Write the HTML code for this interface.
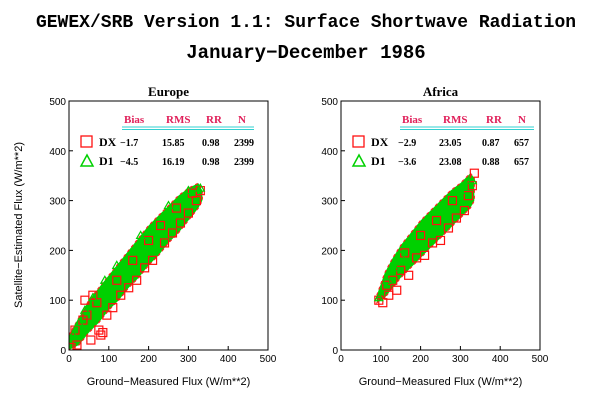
<!DOCTYPE html>
<html><head><meta charset="utf-8"><style>
body{margin:0;background:#fff;width:612px;height:403px;overflow:hidden}
svg{display:block}
text{font-family:"Liberation Sans",sans-serif}
.ser{font-family:"Liberation Serif",serif;font-weight:bold}
.mono{font-family:"Liberation Mono",monospace;font-weight:bold}
</style></head><body>
<svg id="chart" width="612" height="403" xmlns="http://www.w3.org/2000/svg">
<text class="mono" x="306" y="27" text-anchor="middle" font-size="18">GEWEX/SRB Version 1.1: Surface Shortwave Radiation</text>
<text class="mono" x="306" y="58" text-anchor="middle" font-size="19">January−December 1986</text>
<text x="22" y="225" font-size="11" text-anchor="middle" transform="rotate(-90 22 225)">Satellite−Estimated Flux (W/m**2)</text>
</svg>
<script>
const ticks=[0,100,200,300,400,500];
const statHeaders=["Bias","RMS","RR","N"];
const euroTitle="Europe", afrTitle="Africa";
const euroStatsDX=["-1.7","15.85","0.98","2399"];
const euroStatsD1=["-4.5","16.19","0.98","2399"];
const afrStatsDX=["-2.9","23.05","0.87","657"];
const afrStatsD1=["-3.6","23.08","0.88","657"];
// band of the dense green cloud: x, lower y, upper y
const euroBandX=[0,25,50,75,100,125,150,175,200,225,250,275,300,325,335];
const euroBandLo=[0,10,35,55,80,100,125,145,170,190,215,235,260,285,300];
const euroBandHi=[30,65,100,125,150,175,200,225,250,270,290,310,325,335,320];
const afrBandX=[90,110,130,150,175,200,225,250,275,300,325,335];
const afrBandLo=[95,105,125,145,165,185,205,225,245,265,285,300];
const afrBandHi=[110,155,185,210,235,260,280,300,320,335,355,345];
// DX red outliers
const euroDXx=[5,15,20,35,40,55,60,75,80,85,95,110,130,150,170,190,210,240,260,280,300,320,330,45,70,120,160,200,230,270,310];
const euroDXy=[5,40,10,60,100,20,110,40,30,35,70,85,110,125,140,165,180,215,235,255,275,300,320,70,95,140,180,220,250,285,315];
const afrDXx=[95,105,120,130,140,150,170,190,210,230,250,270,290,310,330,335,115,160,200,240,280,320];
const afrDXy=[100,95,110,140,120,160,150,185,190,215,220,245,265,280,330,355,130,195,230,260,300,310];
const euroD1x=[10,25,40,60,90,120,180,250,300,330];
const euroD1y=[30,55,80,105,140,170,230,290,320,325];
const afrD1x=[95,115,135,150,180,220,260,300,330];
const afrD1y=[105,140,165,190,215,250,285,320,340];

const svg=document.getElementById('chart');
const NS="http://www.w3.org/2000/svg";
function mk(tag,at,parent){const e=document.createElementNS(NS,tag);for(const k in at)e.setAttribute(k,at[k]);(parent||svg).appendChild(e);return e;}

function panel(key,x0,title,bx,blo,bhi,dxx,dxy,d1x,d1y,sDX,sD1,colX){
  const x1=x0+199,y0=350,y1=101;
  const sx=v=>x0+v*(x1-x0)/500, sy=v=>y0-v*(y0-y1)/500;
  const g=mk('g',{});
  
  
  const clip=mk('clipPath',{id:'c'+key},g);
  mk('rect',{x:x0,y:y1,width:x1-x0,height:y0-y1},clip);
  let d='';
  bx.forEach((v,i)=>{d+=(i?'L':'M')+sx(v)+','+sy(bhi[i]);});
  for(let i=bx.length-1;i>=0;i--)d+='L'+sx(bx[i])+','+sy(blo[i]);
  const band=mk('path',{d:d+'Z',fill:'#00d000',stroke:'#ff2020','stroke-width':1.2,'stroke-dasharray':'3 3','clip-path':'url(#c'+key+')'},g);
  
  
  dxx.forEach((v,i)=>{
    const r=mk('rect',{x:sx(v)-4,y:sy(dxy[i])-4,width:8,height:8,fill:'none',stroke:'#ff1010','stroke-width':1.2,'clip-path':'url(#c'+key+')'},g);
    
    
  });
  d1x.forEach((v,i)=>{
    const cx=sx(v),cy=sy(d1y[i]);
    const p=mk('polygon',{points:`${cx-4},${cy+3} ${cx+4},${cy+3} ${cx},${cy-4}`,fill:'none',stroke:'#00d000','stroke-width':1.2,'clip-path':'url(#c'+key+')'},g);
    
    
  });
  const fr=mk('rect',{x:x0,y:y1,width:x1-x0,height:y0-y1,fill:'none',stroke:'#000','stroke-width':1},g);
  
  
  ticks.forEach(t=>{
    mk('line',{x1:sx(t),x2:sx(t),y1:y0,y2:y0-4,stroke:'#000'},g);
    mk('line',{x1:x0,x2:x0+4,y1:sy(t),y2:sy(t),stroke:'#000'},g);
    const tx=mk('text',{x:sx(t),y:y0+12,'font-size':10,'text-anchor':'middle'},g);tx.textContent=t;
    
    
    const ty=mk('text',{x:x0-3,y:sy(t)+4,'font-size':10,'text-anchor':'end'},g);ty.textContent=t;
    
    
  });
  const tt=mk('text',{x:(x0+x1)/2,y:96,'font-size':13,'text-anchor':'middle',class:'ser'},g);tt.textContent=title;
  
  
  const xt=mk('text',{x:(x0+x1)/2,y:385,'font-size':11,'text-anchor':'middle'},g);xt.textContent='Ground−Measured Flux (W/m**2)';
  
  
  statHeaders.forEach((h,i)=>{
    const e=mk('text',{x:colX[i],y:123,'font-size':11,class:'ser',fill:'#e0205a'},g);e.textContent=h;
    
    
  });
  mk('line',{x1:colX[0]-2,x2:colX[3]+16,y1:127,y2:127,stroke:'#30d0d0','stroke-width':1},g);
  mk('line',{x1:colX[0]-2,x2:colX[3]+16,y1:129.5,y2:129.5,stroke:'#30d0d0','stroke-width':1},g);
  const lx=x0+12;
  const sq=mk('rect',{x:lx,y:136,width:11,height:11,fill:'none',stroke:'#ff1010','stroke-width':1.3},g);
  
  
  const tr=mk('polygon',{points:`${lx},${166} ${lx+12},${166} ${lx+6},${155}`,fill:'none',stroke:'#00d000','stroke-width':1.5},g);
  
  
  [['DX',sDX,146],['D1',sD1,165]].forEach(([n,vals,y])=>{
    const l=mk('text',{x:lx+18,y:y,'font-size':12,class:'ser'},g);l.textContent=n;
    
    
    vals.forEach((v,i)=>{
      const e=mk('text',{x:colX[i]-4,y:y,'font-size':10,class:'ser'},g);e.textContent=v.replace('-','−');
      
      
    });
  });
}
panel('europe',69,euroTitle,euroBandX,euroBandLo,euroBandHi,euroDXx,euroDXy,euroD1x,euroD1y,euroStatsDX,euroStatsD1,[124,166,206,238]);
panel('africa',341,afrTitle,afrBandX,afrBandLo,afrBandHi,afrDXx,afrDXy,afrD1x,afrD1y,afrStatsDX,afrStatsD1,[402,443,486,518]);
</script>
</body></html>
